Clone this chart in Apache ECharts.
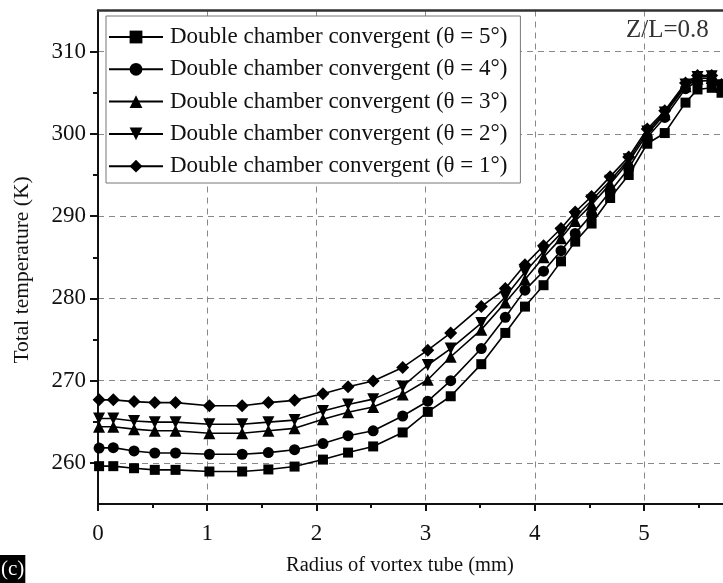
<!DOCTYPE html>
<html>
<head>
<meta charset="utf-8">
<script src="https://cdn.jsdelivr.net/npm/echarts@6/dist/echarts.min.js"></script>
<style>
html,body{margin:0;padding:0;background:#fff;}
#chart{width:723px;height:583px;}
</style>
</head>
<body>
<div id="chart"></div>
<script>
// Radius of vortex tube (mm)
const radius = [0.01, 0.14, 0.33, 0.52, 0.71, 1.02, 1.32, 1.56, 1.80, 2.06, 2.29, 2.52, 2.79, 3.02, 3.23, 3.51, 3.73, 3.91, 4.08, 4.24, 4.37, 4.52, 4.69, 4.86, 5.03, 5.19, 5.38, 5.49, 5.62, 5.71];

// Total temperature (K)
const theta5 = [259.6, 259.6, 259.35, 259.15, 259.15, 258.95, 258.95, 259.2, 259.55, 260.4, 261.25, 262.0, 263.7, 266.2, 268.1, 272.0, 275.8, 279.0, 281.6, 284.5, 286.9, 289.1, 292.2, 295.0, 298.8, 300.1, 303.8, 305.4, 305.6, 305.0];
const theta4 = [261.8, 261.85, 261.45, 261.2, 261.2, 261.05, 261.05, 261.25, 261.6, 262.35, 263.3, 263.9, 265.7, 267.5, 270.0, 273.9, 277.7, 281.0, 283.3, 285.8, 287.9, 290.2, 293.0, 295.8, 299.6, 302.0, 305.5, 306.4, 306.5, 305.4];
const theta3 = [264.4, 264.4, 264.1, 263.9, 263.9, 263.6, 263.6, 263.9, 264.2, 265.3, 266.15, 266.8, 268.3, 270.1, 272.9, 276.2, 279.5, 282.3, 285.0, 287.3, 289.4, 291.4, 293.9, 296.6, 300.0, 302.4, 305.8, 306.7, 306.8, 305.7];
const theta2 = [265.4, 265.4, 265.1, 264.95, 264.95, 264.7, 264.7, 264.95, 265.2, 266.3, 267.1, 267.75, 269.3, 271.9, 273.9, 277.0, 280.2, 283.2, 285.7, 287.9, 289.9, 291.9, 294.3, 296.9, 300.3, 302.6, 306.0, 306.9, 307.0, 305.9];
const theta1 = [267.66, 267.66, 267.45, 267.33, 267.33, 266.95, 266.95, 267.33, 267.6, 268.4, 269.25, 269.95, 271.6, 273.7, 275.8, 279.0, 281.2, 284.1, 286.4, 288.5, 290.5, 292.4, 294.8, 297.2, 300.6, 302.8, 306.2, 307.1, 307.1, 306.0];

const seriesNames = [
  'Double chamber convergent (\u03b8 = 5\u00b0)',
  'Double chamber convergent (\u03b8 = 4\u00b0)',
  'Double chamber convergent (\u03b8 = 3\u00b0)',
  'Double chamber convergent (\u03b8 = 2\u00b0)',
  'Double chamber convergent (\u03b8 = 1\u00b0)'
];
const seriesValues = [theta5, theta4, theta3, theta2, theta1];

const yMajorTicks = [260, 270, 280, 290, 300, 310];
const yMinorTicks = [265, 275, 285, 295, 305];

const xTitle = 'Radius of vortex tube (mm)';
const yTitle = 'Total temperature (K)';
const annotation = 'Z/L=0.8';
const panelLabel = '(c)';

const FONT = '"Liberation Serif", "Times New Roman", serif';
const symbols = ['rect', 'circle', 'triangle', 'path://M0,0 L10,0 L5,10 Z', 'diamond'];
const symbolSizes = [10, 11, 12, 12, 13];

const chart = echarts.init(document.getElementById('chart'));

const series = seriesValues.map((vals, i) => ({
  name: seriesNames[i],
  type: 'line',
  xAxisIndex: 0,
  yAxisIndex: 0,
  data: radius.map((r, j) => [r, vals[j]]),
  symbol: symbols[i],
  symbolSize: symbolSizes[i],
  showSymbol: true,
  clip: false,
  lineStyle: { color: '#000', width: 1.6 },
  itemStyle: { color: '#000', borderColor: '#000', borderWidth: 0 },
  emphasis: { disabled: true },
  animation: false,
  z: 2 + i
}));

chart.setOption({
  animation: false,
  backgroundColor: '#fff',
  grid: { left: 98, top: 10.5, width: 655.2, height: 493.5, containLabel: false, outerBoundsMode: 'none' },
  legend: {
    show: true,
    orient: 'vertical',
    left: 106,
    top: 16,
    padding: [9.5, 13, 5.3, 2],
    itemWidth: 54,
    itemHeight: 16,
    itemGap: 9.3,
    backgroundColor: '#fff',
    borderColor: '#777',
    borderWidth: 1,
    data: seriesNames,
    textStyle: { fontFamily: FONT, fontSize: 23, color: '#111', padding: [0, 0, 0, 2] },
    z: 10
  },
  xAxis: [{
    type: 'value',
    min: 0,
    max: 6,
    interval: 1,
    position: 'bottom',
    axisLine: { show: true, onZero: false, lineStyle: { color: '#111', width: 2 } },
    axisTick: { show: true, inside: false, length: 7, lineStyle: { color: '#111', width: 2 } },
    minorTick: { show: true, splitNumber: 2, length: 4, lineStyle: { color: '#111', width: 2 } },
    axisLabel: { show: true, margin: 18, fontFamily: FONT, fontSize: 23, color: '#111' },
    splitLine: { show: true, lineStyle: { color: '#888', width: 1, type: [6, 5] } }
  }, {
    type: 'value',
    min: 0,
    max: 6,
    interval: 1,
    position: 'top',
    axisLine: { show: true, onZero: false, lineStyle: { color: '#333', width: 2.5 } },
    axisTick: { show: false },
    axisLabel: { show: false },
    splitLine: { show: false }
  }],
  yAxis: [{
    type: 'value',
    min: 255,
    max: 315,
    interval: 5,
    position: 'left',
    axisLine: { show: true, onZero: false, lineStyle: { color: '#111', width: 2 } },
    axisTick: { show: true, inside: false, length: 8, customValues: yMajorTicks, lineStyle: { color: '#111', width: 2 } },
    axisLabel: { show: true, margin: 12, customValues: yMajorTicks, fontFamily: FONT, fontSize: 23, color: '#111' },
    splitLine: { show: true, lineStyle: { color: '#888', width: 1, type: [6, 5] } }
  }, {
    type: 'value',
    min: 255,
    max: 315,
    interval: 5,
    position: 'left',
    axisLine: { show: false },
    axisTick: { show: true, inside: false, length: 5, customValues: yMinorTicks, lineStyle: { color: '#111', width: 2 } },
    axisLabel: { show: false },
    splitLine: { show: false }
  }],
  graphic: [
    { type: 'text', left: 626, top: 18, z: 20,
      style: { text: annotation, font: '25px ' + FONT, fill: '#333' } },
    { type: 'text', left: 286, top: 555, z: 20,
      style: { text: xTitle, font: '20.5px ' + FONT, fill: '#111' } },
    { type: 'text', x: 22, y: 270, rotation: Math.PI / 2, z: 20,
      style: { text: yTitle, font: '21.5px ' + FONT, fill: '#111', align: 'center', verticalAlign: 'middle' } },
    { type: 'text', left: 0, top: 555, z: 20,
      style: { text: panelLabel, font: '21px ' + FONT, fill: '#fff', backgroundColor: '#000', padding: [4, 1, 3, 1] } }
  ],
  series: series
});
</script>
</body>
</html>
